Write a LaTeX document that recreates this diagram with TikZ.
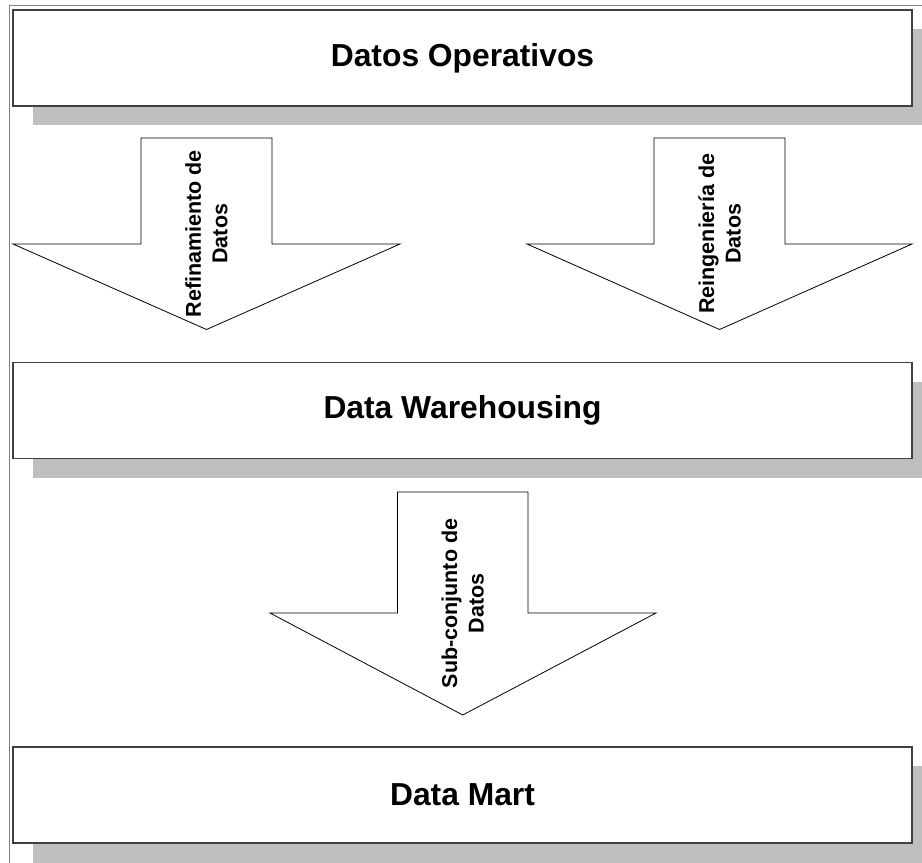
\documentclass[tikz,border=0pt]{standalone}
\usepackage{fontspec}
\setmainfont{Liberation Sans}
\begin{document}
\begin{tikzpicture}[x=1pt,y=-1pt,
  outerframe/.style={draw=black!50,line width=1.8pt},
  shadowbox/.style={fill=black!25,draw=none},
  levelbox/.style={draw=black!75,line width=1.1pt,fill=white,minimum width=899pt,minimum height=96pt,inner sep=0pt,
    font=\fontsize{31.8}{38}\selectfont\bfseries},
  flowarrow/.style={draw=black,line width=0.8pt,fill=white,line join=miter},
  vlabel/.style={font=\fontsize{21.5}{26.5}\selectfont\bfseries,rotate=90,align=center,inner sep=0pt}]
\useasboundingbox (0,0) rectangle (922,863);
\begin{scope}
  \clip (0,0) rectangle (922,863);
  \draw[outerframe] (9.5,5.5) rectangle (940,880);
  \fill[shadowbox] (33,29) rectangle (940,125);
  \fill[shadowbox] (33,382) rectangle (940,478);
  \fill[shadowbox] (33,766) rectangle (940,870);
\end{scope}
% level boxes
\node[levelbox] (ops) at (462.5,58) {Datos Operativos};
\node[levelbox] (dw) at (462.5,410.5) {Data Warehousing};
\node[levelbox] (dm) at (462.5,795) {Data Mart};
% arrows
\draw[flowarrow] (141,138) -- (272,138) -- (272,244) -- (400,244) -- (206.5,329.5) -- (13,244) -- (141,244) -- cycle;
\draw[flowarrow] (654,138) -- (785,138) -- (785,244) -- (912,244) -- (719.5,329.5) -- (527,244) -- (654,244) -- cycle;
\draw[flowarrow] (397.5,492) -- (528,492) -- (528,613) -- (656,613) -- (462.75,715) -- (270,613) -- (397.5,613) -- cycle;
% labels
\node[vlabel] (l1) at (206.5,233.75) {Refinamiento de\\Datos};
\node[vlabel] (l2) at (719.5,233.75) {Reingeniería de\\Datos};
\node[vlabel] (l3) at (462.75,603.5) {Sub-conjunto de\\Datos};
\end{tikzpicture}
\end{document}
